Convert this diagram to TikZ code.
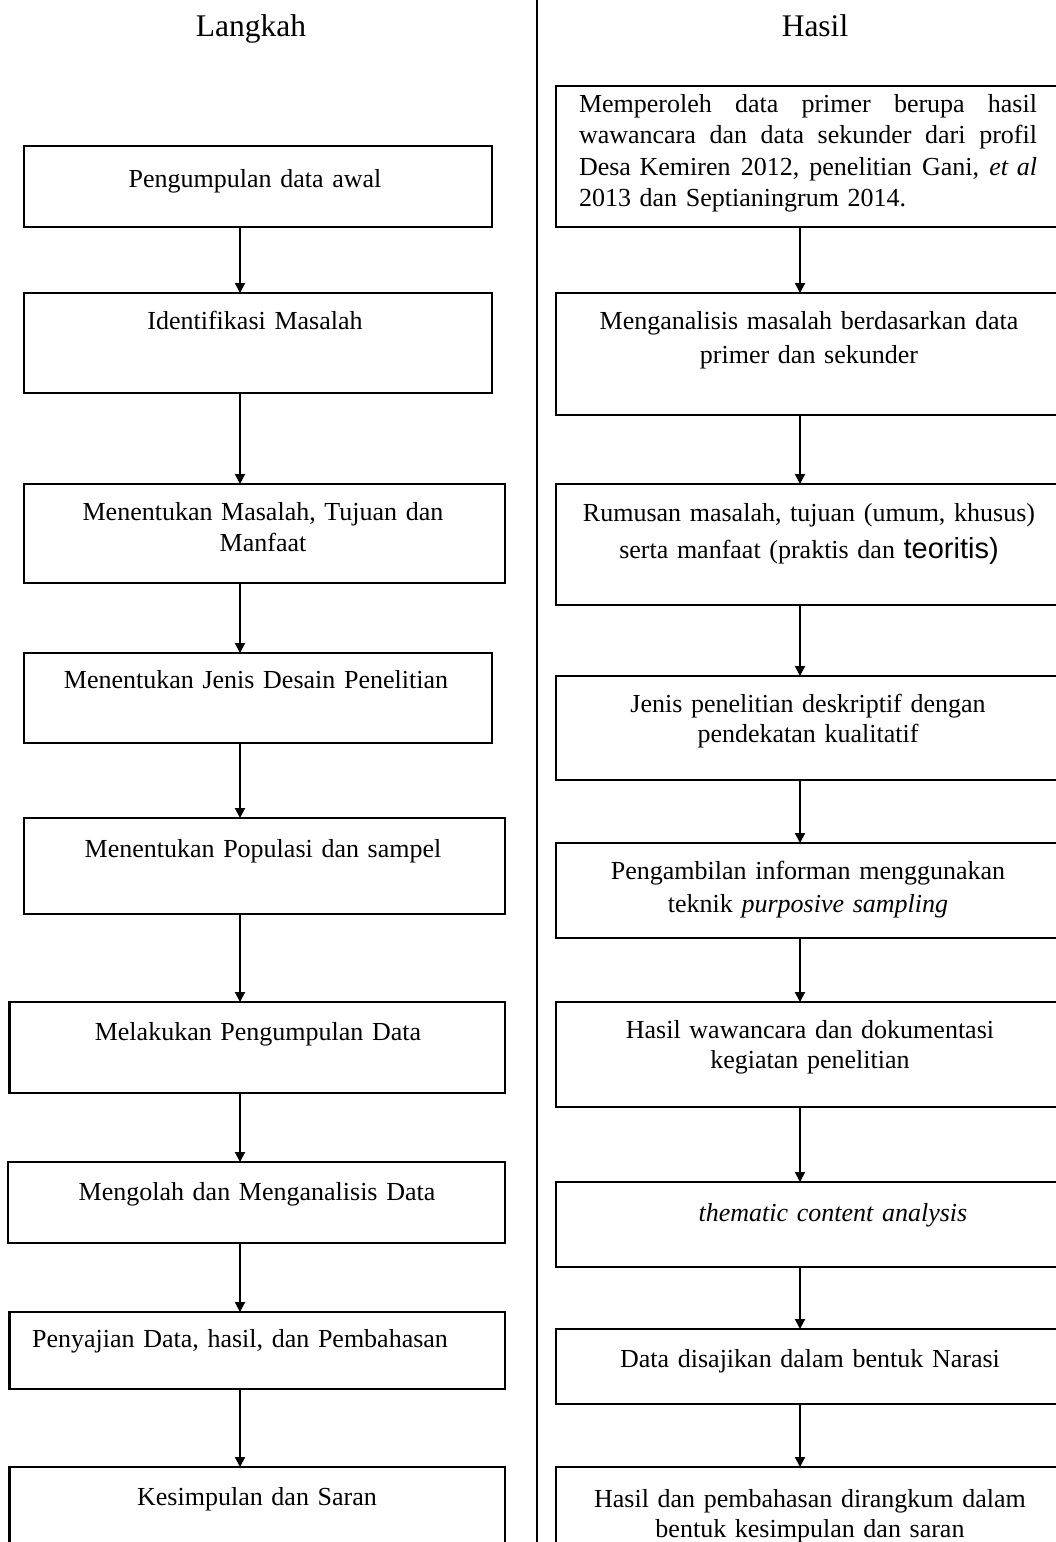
\documentclass[tikz,border=0pt]{standalone}
\usepackage{fontspec}
\setmainfont{Liberation Serif}
\newfontfamily\sansf{Liberation Sans}
\usetikzlibrary{arrows.meta}
\tikzset{
  stepbox/.style={draw=black, line width=2.2pt, inner sep=0pt, outer sep=0pt, anchor=north west},
  txt/.style={inner sep=0pt, outer sep=0pt, anchor=base, align=center, text width=490pt, font=\fontsize{26}{31}\selectfont},
  flow/.style={line width=2pt, -{Triangle[length=10pt,width=10pt]}},
  coltitle/.style={font=\fontsize{31.5}{36}\selectfont, inner sep=0pt, anchor=base},
  divider/.style={line width=2pt}
}
\newcommand\bx[5]{\node[stepbox, minimum width={#4-#2}, minimum height={#5-#3}] (#1) at (#2,#3) {};}
\newcommand\jline[1]{\leavevmode\hbox to 458pt{#1}}
\begin{document}
\begin{tikzpicture}[x=1pt,y=-1pt]
\useasboundingbox (0,0) rectangle (1056,1542);
\fill[white] (0,0) rectangle (1056,1542);
% divider
\coordinate (dtop) at (537,0);
\coordinate (dbot) at (537,1542);
\draw[divider] (dtop) -- (dbot);
% titles
\node[coltitle] (hL) at (251,36) {Langkah};
\node[coltitle] (hR) at (815,36) {Hasil};
% left boxes
\bx{L1}{23.6}{146}{491.6}{227}
\bx{L2}{23.6}{293}{491.6}{393}
\bx{L3}{23.6}{484}{505}{583}
\bx{L4}{23.6}{653}{491.6}{743}
\bx{L5}{23.6}{818}{505}{914}
\bx{L6}{9.4}{1002}{505}{1093}
\bx{L7}{8}{1162}{505}{1243}
\bx{L8}{9.4}{1312}{505}{1389}
\bx{L9}{9.4}{1467}{505}{1548}
% right boxes
\bx{R1}{556}{86}{1062}{227}
\bx{R2}{556}{293}{1062}{415}
\bx{R3}{556}{484}{1062}{605}
\bx{R4}{556}{676}{1062}{780}
\bx{R5}{556}{843}{1062}{938}
\bx{R6}{556}{1002}{1062}{1107}
\bx{R7}{556}{1182}{1062}{1267}
\bx{R8}{556}{1329}{1062}{1404}
\bx{R9}{556}{1467}{1062}{1548}
% left texts
\node[txt] (t1) at (255,187) {Pengumpulan data awal};
\node[txt] (t2) at (255,329) {Identifikasi Masalah};
\node[txt, font=\fontsize{26}{31}\selectfont] (t3) at (263,520) {Menentukan Masalah, Tujuan dan\\Manfaat};
\node[txt] (t4) at (256,688) {Menentukan Jenis Desain Penelitian};
\node[txt] (t5) at (263,857) {Menentukan Populasi dan sampel};
\node[txt] (t6) at (258,1040) {Melakukan Pengumpulan Data};
\node[txt] (t7) at (257,1200) {Mengolah dan Menganalisis Data};
\node[txt] (t8) at (240,1347) {Penyajian Data, hasil, dan Pembahasan};
\node[txt] (t9) at (257,1505) {Kesimpulan dan Saran};
% right texts
\node[txt, text width=458pt, align=left, font=\fontsize{26}{31.5}\selectfont] (s1) at (808,112)
  {\jline{Memperoleh\hfill data\hfill primer\hfill berupa\hfill hasil}\\
   \jline{wawancara\hfill dan\hfill data\hfill sekunder\hfill dari\hfill profil}\\
   \jline{Desa Kemiren\hfill 2012,\hfill penelitian\hfill Gani,\hfill \textit{et al}}\\
   2013 dan Septianingrum 2014.};
\node[txt, font=\fontsize{26}{34}\selectfont] (s2) at (809,329) {Menganalisis masalah berdasarkan data\\primer dan sekunder};
\node[txt, font=\fontsize{26}{37}\selectfont] (s3) at (809,521) {Rumusan masalah, tujuan (umum, khusus)\\serta manfaat (praktis dan {\sansf\fontsize{29}{37}\selectfont teoritis)}};
\node[txt, font=\fontsize{26}{30.5}\selectfont] (s4) at (808,712) {Jenis penelitian deskriptif dengan\\pendekatan kualitatif};
\node[txt, font=\fontsize{26}{33.5}\selectfont] (s5) at (808,879) {Pengambilan informan menggunakan\\teknik \textit{purposive sampling}};
\node[txt, font=\fontsize{26}{30}\selectfont] (s6) at (810,1038) {Hasil wawancara dan dokumentasi\\kegiatan penelitian};
\node[txt] (s7) at (833,1221) {\textit{thematic content analysis}};
\node[txt] (s8) at (810,1367) {Data disajikan dalam bentuk Narasi};
\node[txt, font=\fontsize{26}{30.5}\selectfont] (s9) at (810,1507) {Hasil dan pembahasan dirangkum dalam\\bentuk kesimpulan dan saran};
% arrows
\coordinate (ax) at (240,0);
\coordinate (bx) at (800,0);
\foreach \a/\b in {L1/L2,L2/L3,L3/L4,L4/L5,L5/L6,L6/L7,L7/L8,L8/L9}
  \draw[flow] (\a.south -| ax) -- (\b.north -| ax);
\foreach \a/\b in {R1/R2,R2/R3,R3/R4,R4/R5,R5/R6,R6/R7,R7/R8,R8/R9}
  \draw[flow] (\a.south -| bx) -- (\b.north -| bx);
\end{tikzpicture}
\end{document}
